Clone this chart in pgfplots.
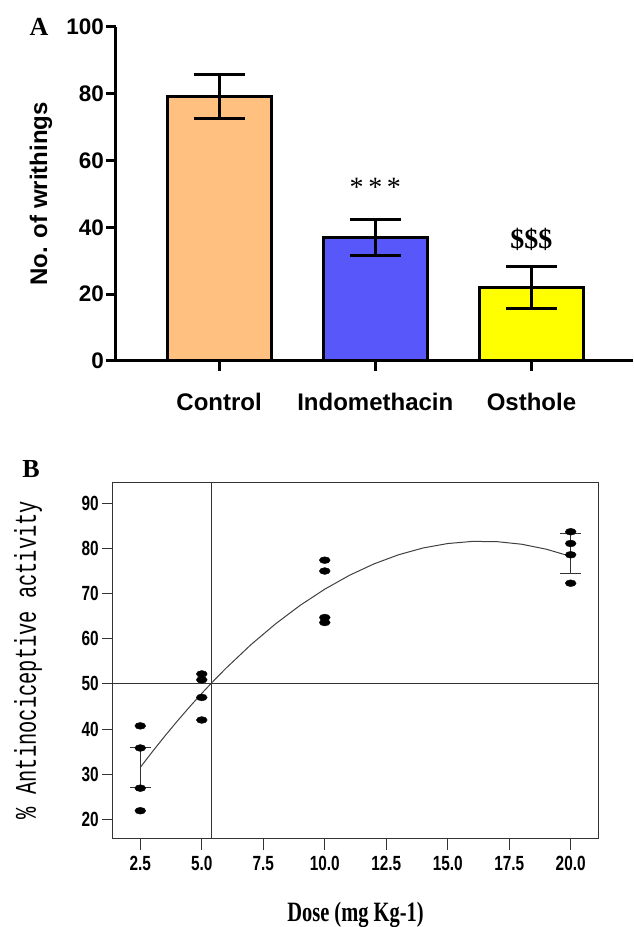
\documentclass[border=0pt]{standalone}
\usepackage{fontspec}
\usepackage{pgfplots}
\pgfplotsset{compat=1.18}
\setmainfont{Liberation Sans}
\newfontfamily\lsans{Liberation Sans}
\newfontfamily\lnarrow{Liberation Sans}[FakeStretch=0.75]
\newfontfamily\lmono{Liberation Mono}[FakeStretch=0.68]
\newfontfamily\lserif{Liberation Serif}
\newfontfamily\lserifc{Liberation Serif}[FakeStretch=0.73]
\definecolor{ctrl}{HTML}{FFC080}
\definecolor{indo}{HTML}{5757FA}
\definecolor{osth}{HTML}{FFFF00}
\begin{document}
\begin{tikzpicture}
\path[use as bounding box] (0,0) rectangle (633pt,927pt);
% ---------------- Panel A ----------------
\begin{axis}[
  at={(116pt,566pt)}, anchor=south west, scale only axis,
  width=517pt, height=334pt,
  xmin=-0.66, xmax=2.65, ymin=0, ymax=100,
  axis x line=bottom, axis y line=left,
  axis line style={-, line width=3pt, black},
  xtick={0,1,2}, xticklabels={Control,Indomethacin,Osthole},
  ytick={0,20,...,100},
  tick align=outside, major tick length=10pt,
  every tick/.style={line width=3pt, black},
  /pgf/number format/assume math mode=true,
  yticklabel style={font=\lsans\bfseries\fontsize{22.5}{26}\selectfont, inner sep=2pt},
  xticklabel style={font=\lsans\bfseries\fontsize{24}{28}\selectfont, yshift=-19pt},
  ylabel={No. of writhings},
  ylabel style={font=\lsans\bfseries\fontsize{24}{28}\selectfont, at={(axis description cs:-0.145,0.5)}, anchor=center},
  clip=false,
]
\addplot[ybar, bar width=104pt, bar shift=0pt, fill=ctrl, draw=black, line width=3pt,
  error bars/.cd, y dir=both, y explicit,
  error bar style={line width=3pt, black},
  error mark options={rotate=90, mark size=25.5pt, line width=3pt, black}]
  coordinates {(0,79.2) +- (0,6.5)};
\addplot[ybar, bar width=104pt, bar shift=0pt, fill=indo, draw=black, line width=3pt,
  error bars/.cd, y dir=both, y explicit,
  error bar style={line width=3pt, black},
  error mark options={rotate=90, mark size=25.5pt, line width=3pt, black}]
  coordinates {(1,37.1) +- (0,5.4)};
\addplot[ybar, bar width=104pt, bar shift=0pt, fill=osth, draw=black, line width=3pt,
  error bars/.cd, y dir=both, y explicit,
  error bar style={line width=3pt, black},
  error mark options={rotate=90, mark size=25.5pt, line width=3pt, black}]
  coordinates {(2,22.0) +- (0,6.2)};
\node[font=\lserif\fontsize{28}{30}\selectfont] at (axis cs:1,52.0) {*\,*\,*};
\node[font=\lserif\bfseries\fontsize{28}{30}\selectfont] at (axis cs:2,36.5) {\$\$\$};
\end{axis}
\node[font=\lserif\bfseries\fontsize{26}{30}\selectfont] at (39pt,900pt) {A};
% ---------------- Panel B ----------------
\begin{axis}[
  at={(113pt,88pt)}, anchor=south west, scale only axis,
  width=485pt, height=356pt,
  xmin=1.39, xmax=21.11, ymin=15.64, ymax=94.5,
  axis line style={black!80, line width=1pt},
  xtick={2.5,5,7.5,10,12.5,15,17.5,20},
  xticklabels={2.5,5.0,7.5,10.0,12.5,15.0,17.5,20.0},
  ytick={20,30,...,90},
  tick pos=left, tick align=outside, major tick length=11pt,
  every tick/.style={line width=1pt, black!80},
  /pgf/number format/assume math mode=true,
  ticklabel style={font=\lnarrow\bfseries\fontsize{20.5}{24}\selectfont, inner sep=3pt},
  xticklabel style={yshift=-3pt},
  xlabel={Dose (mg Kg-1)},
  xlabel style={font=\lserifc\bfseries\fontsize{28}{30}\selectfont, at={(axis description cs:0.5,-0.2135)}, anchor=center},
  ylabel={\% Antinociceptive activity},
  ylabel style={font=\lmono\fontsize{30}{34}\selectfont, at={(axis description cs:-0.175,0.503)}, anchor=center},
]
\addplot[black!80, line width=1pt] coordinates {(5.39,15.64) (5.39,94.5)};
\addplot[black!80, line width=1pt] coordinates {(1.39,50) (21.11,50)};
\addplot[black!75, line width=1pt] coordinates {
(2.5,31.5) (3,35.04) (3.5,38.45) (4,41.73) (4.5,44.88) (5,47.90) (5.5,50.79)
(6,53.55) (7,58.69) (8,63.30) (9,67.40) (10,70.98) (11,74.04) (12,76.58)
(13,78.60) (14,80.11) (15,81.09) (16,81.56) (17,81.51) (18,80.94) (19,79.85) (20,78.24)};
\addplot[draw=none, mark=none,
  error bars/.cd, y dir=both, y explicit,
  error bar style={line width=1pt, black!80},
  error mark options={rotate=90, mark size=10.5pt, line width=1pt, black!80}]
  coordinates {(2.5,31.5) +- (0,4.5) (20,78.9) +- (0,4.5)};
\addplot[only marks, mark=*, mark size=3.4pt, mark options={xscale=1.6, fill=black, draw=black}]
  coordinates {
  (2.5,40.7) (2.5,35.8) (2.5,26.9) (2.5,21.9)
  (5,52.2) (5,50.9) (5,47.0) (5,42.0)
  (10,77.4) (10,75.0) (10,64.7) (10,63.6)
  (20,83.7) (20,81.1) (20,78.6) (20,72.3)};
\end{axis}
\node[font=\lserif\bfseries\fontsize{26}{30}\selectfont] at (31pt,458pt) {B};
\end{tikzpicture}
\end{document}
